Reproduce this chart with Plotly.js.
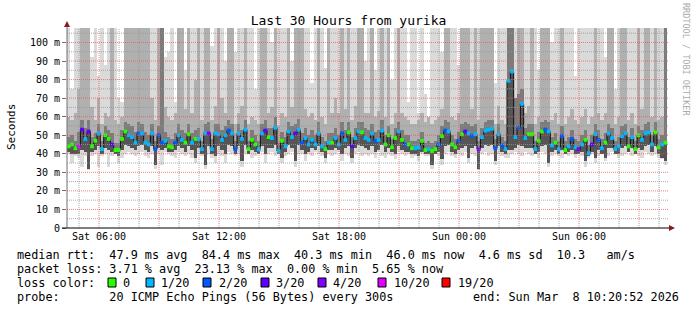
<!DOCTYPE html>
<html>
<head>
<meta charset="utf-8">
<script src="https://cdn.plot.ly/plotly-3.0.1.min.js"></script>
<style>
  html, body { margin: 0; padding: 0; background: #ffffff; }
  #chart { width: 697px; height: 310px; }
</style>
</head>
<body>
<div id="chart"></div>
<script>
// ---- data (10-minute steps, 30 hours ending Sun Mar 8 10:20 2026) ----
const stepMinutes = 10;
const median = [
  44,45,43,44,53,48,52,44,47,51,
  42.5,50,48,45,42,42,48,52,50,49,
  46,51,51,46,45,51,42.5,50,46,47,
  44,43.5,46,50,47.5,46,50.5,46,48,48,
  42.5,51,51,42.5,51,50.5,47.5,50,52.5,51,
  42.5,51,48,53,42.5,47.5,45,42.5,51,52.5,
  49,48.5,54,41.5,47,44,52,49,51,53,
  46,48.5,45,47.5,45,51,44,42.5,46,46,
  48.5,45,51,47.5,51.5,44,48.5,52,51.5,48.5,
  47.5,51,47,47.5,52.5,45,50,43.5,48.5,52,
  47.5,45,45,43,43,43.5,47,42,42.5,41.5,
  42.5,45,49.5,52.5,52,45,43.5,47,50.5,52,
  51,49.5,50.5,42.5,49,52.5,53,53.5,43,50.5,
  44.5,42.5,79.4,84.4,49,54,67,48.5,50.5,50.5,
  42.5,47,52,53,52,44.5,46,42.5,49.5,42,
  44,48,43.5,42.5,45,47.5,40.3,45,50.5,47.5,
  43,46,51,48.5,42.5,44,49.5,51,44,49,
  42.5,50,47.5,51,51.5,45,51.5,43.5,45,46
];
// loss index: 0=0, 1=1/20, 2=2/20, 3=3/20, 4=4/20, 5=10/20, 6=19/20
const lossIdx = [
  0,0,0,5,3,1,3,0,0,1,
  1,0,0,3,0,0,0,0,1,1,
  1,2,1,1,1,1,2,2,2,1,
  0,0,2,1,1,0,0,1,0,1,
  1,1,4,1,1,1,1,1,2,1,
  2,1,1,1,0,0,0,1,1,3,
  0,1,1,1,0,1,1,1,3,1,
  2,1,1,1,1,1,1,0,1,0,
  1,1,2,1,0,3,1,1,0,1,
  1,1,2,1,1,0,0,0,0,1,
  0,2,0,0,1,1,0,0,1,0,
  0,2,0,2,1,0,0,2,0,3,
  1,2,1,4,1,1,1,1,2,1,
  2,1,1,1,1,2,1,1,0,0,
  1,0,0,2,1,1,0,1,2,0,
  1,2,1,3,1,0,1,3,1,2,
  1,0,1,1,1,1,1,1,0,1,
  0,0,1,1,1,1,0,0,1,0
];
// lowest ping of each step (bottom of light smoke)
const smokeMin = [
  40,35,39,38,33,39,31,39,40,33,
  39,40,33,39,40,35,38,40,41,40,
  39,40,41,39,38,40,32,40,34,41,
  40,39,38,41,40,39,40,38,35,40,
  39,32,40,38,35,40,39,35,41,40,
  39,40,33,40,40,38,39,40,41,35,
  40,41,39,40,35,39,40,41,33,40,
  40,36,40,39,41,40,39,35,40,39,
  40,41,36,40,39,35,40,41,39,40,
  39,40,38,41,39,38,40,39,37,41,
  40,39,40,38,39,36,40,39,39,32,
  40,39,34,40,41,39,38,40,39,41,
  35,40,39,31,40,41,39,40,34,40,
  39,38,38,40,41,40,39,41,40,39,
  40,38,41,40,33,39,40,39,38,40,
  39,40,38,40,39,33,38,40,35,39,
  40,36,39,41,40,38,39,40,41,39,
  40,39,38,41,40,39,40,38,37,34
];
// lower edge of the dense (dark) part of the smoke
const smokeLow = [
  41,40,40,40,42,41,32,41,42,44,
  40,43,42,41,40,39,42,45,44,43,
  42,44,45,42,41,44,34,43,42,43,
  41,41,42,44,43,41,44,42,38,43,
  40,34,44,40,39,44,42,40,45,44,
  40,44,36,45,40,42,41,40,44,40,
  43,43,45,40,38,41,45,43,36,45,
  42,40,41,43,42,44,41,38,42,42,
  43,42,40,43,44,38,43,45,44,43,
  42,44,41,42,45,41,43,41,40,44,
  42,41,41,40,40,39,41,40,40,34,
  40,41,37,44,45,41,40,42,43,44,
  38,43,44,32,43,45,44,45,36,44,
  41,40,42,42,43,45,44,43,43,43,
  40,41,44,45,35,41,42,40,42,40,
  41,42,40,40,41,36,39,41,38,42,
  40,38,43,43,40,40,43,44,41,43,
  40,43,42,44,45,41,44,40,38,36
];
// upper edge of the dense (dark) part of the smoke
const smokeDense = [
  49,50,47,52,58,54,58,49,51,56,
  47,55,53,51,46,46,53,57,56,55,
  52,57,56,52,50,56,47,55,110,52,
  49,48,51,56,53,51,56,51,53,54,
  47,56,57,48,56,56,53,55,58,56,
  47,56,53,58,47,53,50,47,56,58,
  54,54,60,46,52,49,57,55,56,59,
  51,54,50,53,50,57,49,47,51,51,
  54,50,57,53,57,49,54,57,57,54,
  53,56,52,53,58,50,55,48,54,57,
  53,50,50,47,47,48,52,46,47,46,
  47,50,55,58,57,50,48,52,56,57,
  56,55,56,47,54,57,58,58,48,56,
  49,47,110,110,70,72,75,54,56,56,
  47,52,57,58,57,49,51,47,55,47,
  49,53,48,47,50,53,45,50,56,53,
  48,51,56,54,47,49,55,56,49,54,
  47,55,53,56,57,50,57,48,50,110
];
// upper edge of the medium-grey part of the smoke
const smokeHigh = [
  60,58,62,75,110,110,110,65,58,70,
  56,62,60,110,58,56,60,110,110,110,
  110,110,110,110,110,70,58,110,110,65,
  60,58,62,110,110,64,110,62,80,110,
  58,110,110,58,66,110,70,62,110,110,
  56,62,66,110,56,60,58,56,110,110,
  62,65,110,55,62,60,110,65,110,110,
  110,64,60,62,58,110,60,56,110,62,
  70,62,110,64,110,58,66,110,110,62,
  62,110,60,63,110,60,110,56,62,110,
  62,60,58,56,56,58,62,57,60,56,
  58,60,64,110,110,60,58,62,110,110,
  110,64,110,58,110,110,110,110,56,66,
  58,56,110,110,64,110,110,62,66,110,
  56,60,110,110,110,58,62,56,110,56,
  60,64,58,56,60,64,56,60,110,62,
  58,62,110,110,56,60,110,110,58,62,
  56,110,64,110,110,60,110,58,60,110
];
// highest ping of each step (top of light smoke; >108 is clipped)
const smokeMax = [
  110,75,110,110,110,110,110,92,110,82,
  110,88,110,110,110,70,68,110,110,110,
  110,110,110,110,110,110,110,110,110,92,
  95,110,68,110,110,85,110,110,110,88,
  110,110,110,98,110,110,110,90,110,110,
  95,110,110,110,110,110,75,110,110,110,
  110,100,110,110,110,110,110,90,110,110,
  110,110,110,78,110,110,110,86,110,110,
  110,110,110,110,110,110,110,110,110,90,
  110,110,85,110,110,110,110,80,110,110,
  110,110,68,110,110,62,110,72,60,110,
  110,110,95,110,110,110,110,88,110,110,
  110,110,110,110,110,110,110,110,78,110,
  110,110,110,110,110,110,110,110,110,110,
  110,85,110,110,110,100,110,110,110,110,
  110,110,82,110,110,110,110,110,110,110,
  110,92,110,110,75,110,110,110,110,110,
  110,110,110,110,110,110,110,110,110,110
];
const lossColors = ['#26ff00','#00b8ff','#0059ff','#5e00ff','#7e00ff','#dd00ff','#ff0000'];
const lossLabels = ['0','1/20','2/20','3/20','4/20','10/20','19/20'];
const yTickVals = [0,10,20,30,40,50,60,70,80,90,100];
const yTickText = ['0','10 m','20 m','30 m','40 m','50 m','60 m','70 m','80 m','90 m','100 m'];
const xTickText = ['Sat 06:00','Sat 12:00','Sat 18:00','Sun 00:00','Sun 06:00'];

// ---- build ----
const HOUR = 3600000;
const t0 = Date.UTC(2026, 2, 7, 4, 24);
const tEnd = t0 + 30.05 * HOUR;
const stepMs = stepMinutes * 60000;
const xs = median.map((_, i) => t0 + (i + 0.5) * stepMs);
const xTickVals = [Date.UTC(2026,2,7,6), Date.UTC(2026,2,7,12), Date.UTC(2026,2,7,18), Date.UTC(2026,2,8,0), Date.UTC(2026,2,8,6)];

const L = 67, R = 668, T = 28, B = 228;
const PX = p => (p - L) / (R - L);
const PY = p => (B - p) / (B - T);

function band(lo, hi, color) {
  return {
    type: 'bar', x: xs, base: lo, y: hi.map((h, i) => h - lo[i]),
    width: stepMs, marker: { color: color, line: { width: 0 } },
    hoverinfo: 'skip', showlegend: false
  };
}

const traces = [
  band(smokeMin, smokeMax, '#dadada'),
  band(smokeLow, smokeHigh, '#b0b0b0'),
  band(smokeLow, smokeDense, '#7c7c7c'),
  band(smokeLow, median, '#555555'),
  {
    type: 'scatter', mode: 'lines', x: xs, y: median,
    line: { color: '#111111', width: 1, shape: 'hvh' },
    hoverinfo: 'skip', showlegend: false
  },
  {
    type: 'scatter', mode: 'markers', x: xs, y: median,
    marker: { symbol: 'square', size: 3.8, color: lossIdx.map(l => lossColors[l]), line: { width: 0 } },
    hoverinfo: 'skip', showlegend: false
  }
];

const shapes = [];
// vertical grid (hourly, every 3h red)
for (let t = Date.UTC(2026,2,7,5); t < tEnd; t += HOUR) {
  const h = new Date(t).getUTCHours();
  const major = h % 3 === 0;
  shapes.push({ type: 'line', xref: 'x', yref: 'paper', x0: t, x1: t, y0: 0, y1: 1, layer: 'above',
    line: { color: major ? 'rgba(225,90,90,0.75)' : 'rgba(150,150,150,0.8)', width: 1, dash: '1px,1px' } });
}
// horizontal grid (5 ms minor, 10 ms major)
for (let v = 5; v <= 105; v += 5) {
  const major = v % 10 === 0;
  shapes.push({ type: 'line', xref: 'paper', yref: 'y', x0: 0, x1: 1, y0: v, y1: v, layer: 'above',
    line: { color: major ? 'rgba(225,90,90,0.75)' : 'rgba(150,150,150,0.8)', width: 1, dash: '1px,1px' } });
}
// axis lines + arrows
shapes.push({ type: 'line', xref: 'paper', yref: 'paper', x0: PX(67), x1: PX(67), y0: PY(228), y1: PY(24), layer: 'above', line: { color: '#707070', width: 1 } });
shapes.push({ type: 'line', xref: 'paper', yref: 'paper', x0: PX(62), x1: PX(670), y0: PY(228), y1: PY(228), layer: 'above', line: { color: '#000000', width: 1 } });
shapes.push({ type: 'path', xref: 'paper', yref: 'paper', layer: 'above',
  path: `M ${PX(64)} ${PY(27)} L ${PX(70)} ${PY(27)} L ${PX(67)} ${PY(21)} Z`,
  fillcolor: '#8b1a1a', line: { width: 0 } });
shapes.push({ type: 'path', xref: 'paper', yref: 'paper', layer: 'above',
  path: `M ${PX(669)} ${PY(225)} L ${PX(669)} ${PY(231)} L ${PX(675)} ${PY(228)} Z`,
  fillcolor: '#8b1a1a', line: { width: 0 } });

// legend boxes
const boxX = [108, 146, 203, 261, 318, 378, 442];
const labelX = [122, 160, 218, 275, 332, 393, 457];
boxX.forEach((bx, i) => {
  shapes.push({ type: 'rect', xref: 'paper', yref: 'paper', x0: PX(bx), x1: PX(bx + 8), y0: PY(278), y1: PY(287),
    fillcolor: lossColors[i], line: { color: '#000000', width: 1 } });
});

const mono = 'DejaVu Sans Mono, monospace';
const nb = s => s.replace(/ /g, '\u00a0');
const legFont = { family: mono, size: 11.8, color: '#000000' };
const annotations = [
  { text: nb('median rtt:  47.9 ms avg  84.4 ms max  40.3 ms min  46.0 ms now  4.6 ms sd  10.3   am/s'),
    x: PX(15), y: PY(255), xref: 'paper', yref: 'paper', xanchor: 'left', yanchor: 'middle', showarrow: false, font: legFont },
  { text: nb('packet loss: 3.71 % avg  23.13 % max  0.00 % min  5.65 % now'),
    x: PX(15), y: PY(268.5), xref: 'paper', yref: 'paper', xanchor: 'left', yanchor: 'middle', showarrow: false, font: legFont },
  { text: nb('loss color:'),
    x: PX(15), y: PY(282.5), xref: 'paper', yref: 'paper', xanchor: 'left', yanchor: 'middle', showarrow: false, font: legFont },
  { text: nb('probe:       20 ICMP Echo Pings (56 Bytes) every 300s'),
    x: PX(15), y: PY(296.5), xref: 'paper', yref: 'paper', xanchor: 'left', yanchor: 'middle', showarrow: false, font: legFont },
  { text: nb('end: Sun Mar  8 10:20:52 2026'),
    x: PX(681), y: PY(296.5), xref: 'paper', yref: 'paper', xanchor: 'right', yanchor: 'middle', showarrow: false, font: legFont },
  { text: 'Seconds', textangle: -90, x: PX(11), y: PY(127), xref: 'paper', yref: 'paper', xanchor: 'center', yanchor: 'middle',
    showarrow: false, font: { family: mono, size: 11, color: '#000000' } },
  { text: nb('RRDTOOL / TOBI OETIKER'), textangle: 90, x: PX(686), y: PY(59), xref: 'paper', yref: 'paper', xanchor: 'center', yanchor: 'middle',
    showarrow: false, font: { family: mono, size: 8.5, color: '#aaaaaa' } }
];
lossLabels.forEach((lab, i) => {
  annotations.push({ text: nb(lab), x: PX(labelX[i] - 1), y: PY(282.5), xref: 'paper', yref: 'paper', xanchor: 'left', yanchor: 'middle',
    showarrow: false, font: legFont });
});

const layout = {
  width: 697, height: 310,
  margin: { l: L, r: 697 - R, t: T, b: 310 - B, pad: 0 },
  paper_bgcolor: '#ffffff', plot_bgcolor: '#ffffff',
  barmode: 'overlay', bargap: 0,
  showlegend: false,
  title: { text: 'Last 30 Hours from yurika', x: 0.5, xref: 'container', xanchor: 'center',
    y: 1 - 20 / 310, yref: 'container', yanchor: 'middle',
    font: { family: mono, size: 13, color: '#000000' } },
  xaxis: {
    type: 'date', range: [t0, tEnd], fixedrange: true,
    tickmode: 'array', tickvals: xTickVals, ticktext: xTickText,
    showgrid: false, zeroline: false, showline: false,
    ticks: '', ticklabelstandoff: 1,
    tickfont: { family: mono, size: 10, color: '#000000' }
  },
  yaxis: {
    range: [0, 107.8], fixedrange: true,
    tickmode: 'array', tickvals: yTickVals, ticktext: yTickText,
    showgrid: false, zeroline: false, showline: false,
    ticks: 'outside', ticklen: 4, tickcolor: '#707070', tickwidth: 1,
    tickfont: { family: mono, size: 10, color: '#000000' }
  },
  shapes: shapes,
  annotations: annotations
};

Plotly.newPlot('chart', traces, layout, { staticPlot: true, displayModeBar: false });
</script>
</body>
</html>
